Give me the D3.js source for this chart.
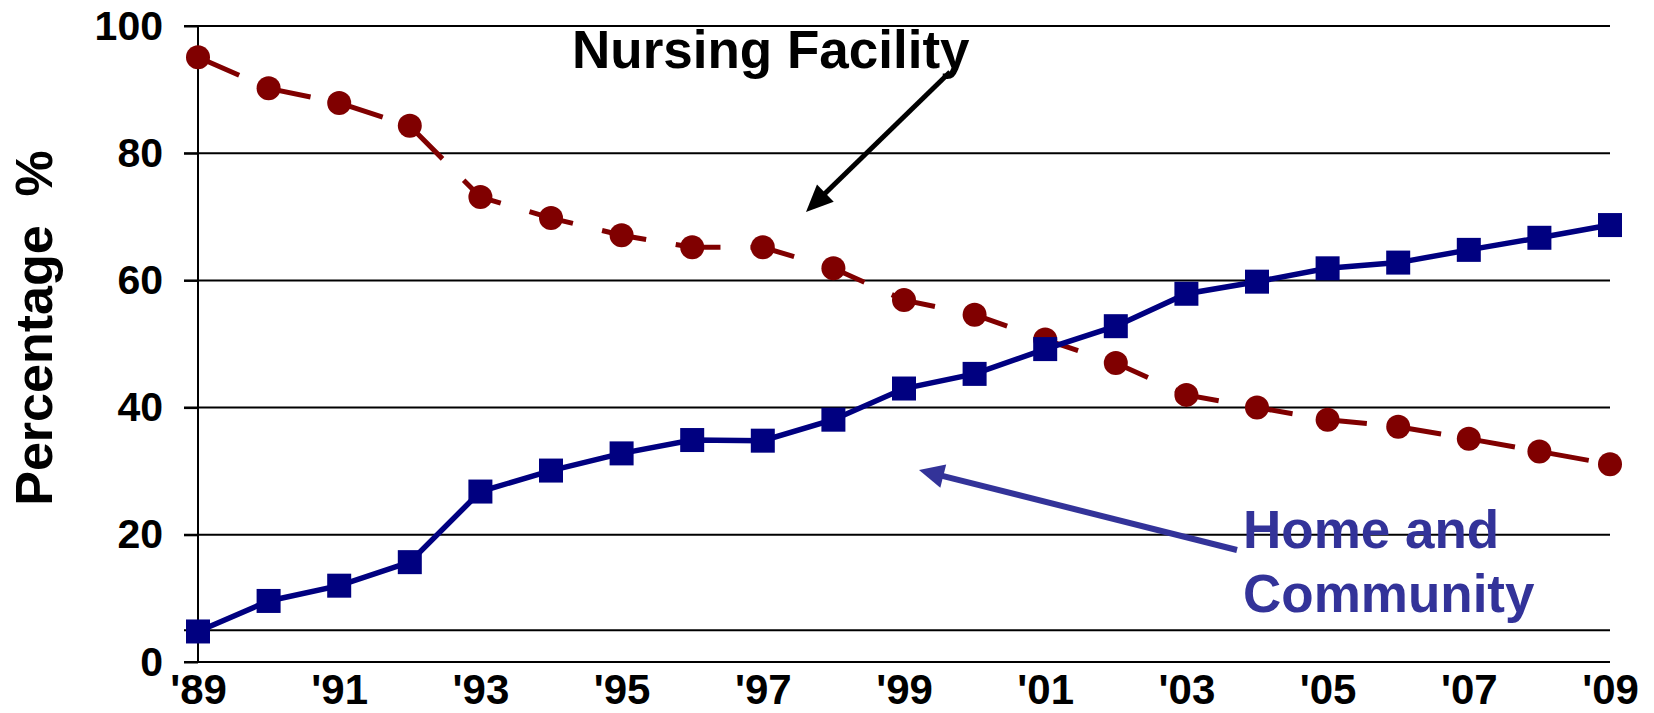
<!DOCTYPE html>
<html>
<head>
<meta charset="utf-8">
<script src="https://cdn.jsdelivr.net/npm/d3@7.9.0/dist/d3.min.js"></script>
<style>
  body { margin: 0; background: #fff; }
  text { font-family: "Liberation Sans", Arial, sans-serif; font-weight: bold; }
</style>
</head>
<body>
<div id="chart"></div>
<script>
const width = 1654;
const height = 713;

// data
const years = [1989, 1990, 1991, 1992, 1993, 1994, 1995, 1996, 1997, 1998, 1999,
               2000, 2001, 2002, 2003, 2004, 2005, 2006, 2007, 2008, 2009];
const nursing = [95.1, 90.2, 87.9, 84.3, 73.1, 69.8, 67.1, 65.2, 65.2, 61.9, 56.9,
                 54.6, 50.7, 47.0, 42.0, 40.0, 38.1, 37.0, 35.1, 33.1, 31.1];
const home = [4.8, 9.6, 12.0, 15.7, 26.8, 30.1, 32.8, 34.9, 34.8, 38.1, 43.0,
              45.3, 49.2, 52.8, 57.9, 59.8, 61.9, 62.8, 64.8, 66.7, 68.7];
const yTicks = [0, 20, 40, 60, 80, 100];
const gridValues = [5, 20, 40, 60, 80, 100];
const xTicks = [1989, 1991, 1993, 1995, 1997, 1999, 2001, 2003, 2005, 2007, 2009];

const x = d3.scaleLinear().domain([1989, 2009]).range([198, 1610]);
const y = d3.scaleLinear().domain([0, 100]).range([662, 26]);

const svg = d3.select("#chart").append("svg")
  .attr("width", width)
  .attr("height", height);

// arrow = line up to the head base + filled triangle head
function arrow(x1, y1, x2, y2, color, lw, headLen, headW) {
  const dx = x2 - x1, dy = y2 - y1;
  const len = Math.sqrt(dx * dx + dy * dy);
  const ux = dx / len, uy = dy / len;
  const bx = x2 - ux * headLen, by = y2 - uy * headLen;
  svg.append("line")
    .attr("x1", x1).attr("y1", y1)
    .attr("x2", bx + ux * 2).attr("y2", by + uy * 2)
    .attr("stroke", color).attr("stroke-width", lw);
  const px = -uy * headW / 2, py = ux * headW / 2;
  svg.append("path")
    .attr("d", `M${x2},${y2} L${bx + px},${by + py} L${bx - px},${by - py} Z`)
    .attr("fill", color);
}

// gridlines
svg.append("g")
  .selectAll("line")
  .data(gridValues)
  .join("line")
  .attr("x1", 184)
  .attr("x2", x(2009))
  .attr("y1", d => y(d))
  .attr("y2", d => y(d))
  .attr("stroke", "#000")
  .attr("stroke-width", 2);

// y axis
const yAxis = svg.append("g")
  .attr("transform", `translate(${x(1989)},0)`)
  .call(d3.axisLeft(y).tickValues(yTicks).tickSize(14).tickPadding(21));
yAxis.select(".domain").remove();
yAxis.selectAll("line").attr("stroke", "#000").attr("stroke-width", 2);
yAxis.selectAll("text").attr("font-size", 41).attr("fill", "#000")
  .attr("font-family", "'Liberation Sans', Arial, sans-serif").attr("font-weight", "bold");

svg.append("line")
  .attr("x1", x(1989)).attr("x2", x(1989))
  .attr("y1", y(100)).attr("y2", y(0))
  .attr("stroke", "#000").attr("stroke-width", 2);

// x axis
const xAxis = svg.append("g")
  .attr("transform", `translate(0,${y(0)})`)
  .call(d3.axisBottom(x).tickValues(xTicks)
    .tickFormat(d => "'" + String(d).slice(2)).tickSize(0).tickPadding(12));
xAxis.select(".domain").remove();
xAxis.selectAll("text").attr("font-size", 42).attr("fill", "#000")
  .attr("font-family", "'Liberation Sans', Arial, sans-serif").attr("font-weight", "bold");
svg.append("line")
  .attr("x1", 184).attr("x2", x(2009))
  .attr("y1", y(0)).attr("y2", y(0))
  .attr("stroke", "#000").attr("stroke-width", 2);

// y title
svg.append("text")
  .attr("transform", `translate(52,328) rotate(-90)`)
  .attr("text-anchor", "middle")
  .attr("font-size", 52)
  .attr("xml:space", "preserve")
  .style("white-space", "pre")
  .text("Percentage  %");

const nfData = years.map((yr, i) => ({ yr, v: nursing[i] }));
const hcData = years.map((yr, i) => ({ yr, v: home[i] }));
const line = d3.line().x(d => x(d.yr)).y(d => y(d.v));

// Nursing facility (dashed, circles)
svg.append("path")
  .datum(nfData)
  .attr("d", line)
  .attr("fill", "none")
  .attr("stroke", "#800000")
  .attr("stroke-width", 5)
  .attr("stroke-dasharray", "45,30");
svg.append("g")
  .selectAll("circle")
  .data(nfData)
  .join("circle")
  .attr("cx", d => x(d.yr))
  .attr("cy", d => y(d.v))
  .attr("r", 12)
  .attr("fill", "#800000");

// Home and community (solid, squares)
svg.append("path")
  .datum(hcData)
  .attr("d", line)
  .attr("fill", "none")
  .attr("stroke", "#000080")
  .attr("stroke-width", 5.5);
svg.append("g")
  .selectAll("rect")
  .data(hcData)
  .join("rect")
  .attr("x", d => x(d.yr) - 12)
  .attr("y", d => y(d.v) - 12)
  .attr("width", 24)
  .attr("height", 24)
  .attr("fill", "#000080");

// annotations
svg.append("text")
  .attr("x", 572).attr("y", 68)
  .attr("font-size", 53)
  .attr("fill", "#000")
  .text("Nursing Facility");
arrow(950, 72, 806, 212, "#000", 5, 27, 24);

const hc = svg.append("text")
  .attr("font-size", 53)
  .attr("fill", "#333399");
hc.append("tspan").attr("x", 1243).attr("y", 548).text("Home and");
hc.append("tspan").attr("x", 1243).attr("y", 612).text("Community");
arrow(1237, 550, 919, 470, "#333399", 6, 25, 24);
</script>
</body>
</html>
